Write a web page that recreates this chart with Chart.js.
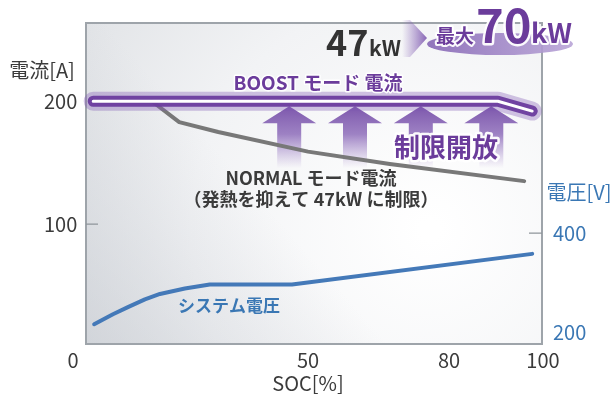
<!DOCTYPE html>
<html>
<head>
<meta charset="utf-8">
<script src="https://cdn.jsdelivr.net/npm/chart.js@4.4.1/dist/chart.umd.min.js"></script>
<style>
  html, body { margin: 0; padding: 0; background: #fff; }
</style>
</head>
<body>
<canvas id="grafico" width="612" height="397"></canvas>
<script>
// datos
const socBoost = [4.3, 90.4, 97.7];
const corrienteBoost = [200, 200, 192];
const socNormal = [4.3, 16.8, 22.6, 30.9, 50, 67.4, 96];
const corrienteNormal = [200, 200, 183, 175, 159, 149, 135];
const socTension = [4.5, 8.5, 11.8, 15.3, 18.5, 23.8, 29.1, 46.6, 97.7];
const tensionSistema = [216, 236, 251, 266, 277, 288, 296, 296, 358];
const ticksSoc = [0, 50, 80, 100];
const ticksCorriente = [100, 200];
const ticksTension = [200, 400];

const fuente = "'Noto Sans CJK JP', 'Noto Sans', sans-serif";
const morado = "#6b3c9b";
const azul = "#3a77b4";
const grisTexto = "#3b3b3b";

function puntos(xs, ys) {
  return xs.map((x, i) => ({ x: x, y: ys[i] }));
}

function textoConBorde(ctx, texto, x, y, color, ancho) {
  ctx.lineJoin = "round";
  ctx.strokeStyle = "rgba(255,255,255,0.95)";
  ctx.lineWidth = ancho;
  ctx.strokeText(texto, x, y);
  ctx.fillStyle = color;
  ctx.fillText(texto, x, y);
}

function recuadro(a) {
  return { left: a.left + 13, right: a.right - 1, top: a.top + 1, bottom: a.bottom - 3 };
}

const fondoPlugin = {
  id: "fondo",
  beforeDraw(chart) {
    const { ctx, chartArea } = chart;
    const r = recuadro(chartArea);
    const w = r.right - r.left, h = r.bottom - r.top;
    ctx.save();
    const g = ctx.createRadialGradient(430, 230, 10, 430, 230, 520);
    g.addColorStop(0, "#ffffff");
    g.addColorStop(0.45, "#f2f3f5");
    g.addColorStop(1, "#d6d9dd");
    ctx.fillStyle = g;
    ctx.fillRect(r.left, r.top, w, h);
    const g2 = ctx.createLinearGradient(r.left, r.bottom, r.left + 170, r.bottom - 150);
    g2.addColorStop(0, "rgba(185,190,198,0.45)");
    g2.addColorStop(1, "rgba(185,190,198,0)");
    ctx.fillStyle = g2;
    ctx.fillRect(r.left, r.top, w, h);
    ctx.strokeStyle = "#9ea4aa";
    ctx.lineWidth = 2;
    ctx.strokeRect(r.left, r.top, w, h);
    ctx.restore();
  },
  beforeDatasetsDraw(chart) {
    const { ctx, chartArea, scales } = chart;
    const r = recuadro(chartArea);
    ctx.save();
    // marcas de ticks dentro del recuadro
    ctx.strokeStyle = "#8f959b";
    ctx.lineWidth = 1.2;
    const y100 = scales.y.getPixelForValue(100);
    ctx.beginPath();
    ctx.moveTo(r.left, y100);
    ctx.lineTo(r.left + 12, y100);
    const y400 = scales.y1.getPixelForValue(400);
    ctx.moveTo(r.right - 13, y400);
    ctx.lineTo(r.right, y400);
    ctx.stroke();

    // flechas de "制限開放"
    const yTop = scales.y.getPixelForValue(200) + 5;
    [46, 60, 74, 89].forEach((s) => {
      const cx = scales.x.getPixelForValue(s);
      const gr = ctx.createLinearGradient(0, yTop, 0, yTop + 62);
      gr.addColorStop(0, "rgba(118,78,168,0.95)");
      gr.addColorStop(0.45, "rgba(135,100,182,0.8)");
      gr.addColorStop(1, "rgba(160,130,200,0)");
      ctx.fillStyle = gr;
      ctx.beginPath();
      ctx.moveTo(cx, yTop);
      ctx.lineTo(cx + 27, yTop + 17);
      ctx.lineTo(cx + 12, yTop + 17);
      ctx.lineTo(cx + 12, yTop + 62);
      ctx.lineTo(cx - 12, yTop + 62);
      ctx.lineTo(cx - 12, yTop + 17);
      ctx.lineTo(cx - 27, yTop + 17);
      ctx.closePath();
      ctx.fill();
    });
    ctx.restore();
  },
  afterDatasetsDraw(chart) {
    const ctx = chart.ctx;
    ctx.save();
    ctx.textAlign = "center";
    ctx.textBaseline = "middle";

    ctx.font = "20px " + fuente;
    ctx.fillStyle = grisTexto;
    ctx.fillText("電流[A]", 42, 70);
    ctx.fillStyle = azul;
    ctx.fillText("電圧[V]", 579, 192);

    ctx.font = "bold 19px " + fuente;
    textoConBorde(ctx, "BOOST モード 電流", 318, 83, morado, 3);

    ctx.font = "bold 18px " + fuente;
    ctx.fillStyle = grisTexto;
    ctx.fillText("NORMAL モード電流", 311, 178);
    ctx.fillText("（発熱を抑えて 47kW に制限）", 311, 199);

    ctx.font = "bold 17px " + fuente;
    ctx.fillStyle = azul;
    ctx.fillText("システム電圧", 229, 306);

    ctx.font = "bold 26px " + fuente;
    textoConBorde(ctx, "制限開放", 446, 147, morado, 5);

    // 47kW -> 最大70kW
    ctx.textAlign = "left";
    ctx.textBaseline = "alphabetic";
    ctx.fillStyle = "#333";
    ctx.font = "bold 36px " + fuente;
    ctx.fillText("47", 326, 56);
    ctx.font = "bold 21px " + fuente;
    ctx.fillText("kW", 369, 56);

    const gc = ctx.createLinearGradient(402, 0, 428, 0);
    gc.addColorStop(0, "rgba(140,105,185,0)");
    gc.addColorStop(1, "rgba(125,88,175,0.95)");
    ctx.fillStyle = gc;
    ctx.beginPath();
    ctx.moveTo(402, 20);
    ctx.lineTo(410, 20);
    ctx.lineTo(427, 38);
    ctx.lineTo(410, 57);
    ctx.lineTo(402, 57);
    ctx.closePath();
    ctx.fill();

    const ge = ctx.createLinearGradient(427, 0, 573, 0);
    ge.addColorStop(0, "rgba(140,110,185,0.95)");
    ge.addColorStop(1, "rgba(185,165,215,0.9)");
    ctx.fillStyle = ge;
    ctx.beginPath();
    ctx.ellipse(500, 44, 73, 11, 0, 0, Math.PI * 2);
    ctx.fill();

    ctx.font = "bold 19px " + fuente;
    textoConBorde(ctx, "最大", 436, 43, morado, 4);
    ctx.font = "bold 47px " + fuente;
    textoConBorde(ctx, "70", 476, 43, morado, 5);
    ctx.font = "bold 27px " + fuente;
    textoConBorde(ctx, "kW", 531, 43, morado, 4);
    ctx.restore();
  },
};

const ctx = document.getElementById("grafico");
new Chart(ctx, {
  type: "line",
  data: {
    datasets: [
      {
        label: "BOOST",
        data: puntos(socBoost, corrienteBoost),
        borderColor: "#ffffff",
        borderWidth: 3,
        yAxisID: "y",
      },
      {
        label: "BOOST core",
        data: puntos(socBoost, corrienteBoost),
        borderColor: "rgba(108,60,158,0.95)",
        borderWidth: 11,
        yAxisID: "y",
      },
      {
        label: "BOOST glow",
        data: puntos(socBoost, corrienteBoost),
        borderColor: "rgba(130,90,180,0.35)",
        borderWidth: 19,
        yAxisID: "y",
      },
      {
        label: "NORMAL",
        data: puntos(socNormal, corrienteNormal),
        borderColor: "#787878",
        borderWidth: 4,
        yAxisID: "y",
      },
      {
        label: "システム電圧",
        data: puntos(socTension, tensionSistema),
        borderColor: "#4479b8",
        borderWidth: 4,
        yAxisID: "y1",
      },
    ],
  },
  options: {
    responsive: false,
    animation: false,
    layout: { padding: { top: 22, left: 44, right: 25, bottom: 4 } },
    elements: {
      point: { radius: 0 },
      line: { tension: 0, borderCapStyle: "round", borderJoinStyle: "round" },
    },
    plugins: { legend: { display: false }, tooltip: { enabled: false } },
    scales: {
      x: {
        type: "linear",
        min: 0,
        max: 100,
        afterBuildTicks: (scale) => {
          scale.ticks = ticksSoc.map((v) => ({ value: v }));
        },
        grid: { display: false, drawTicks: false },
        border: { display: false },
        ticks: {
          padding: 3,
          color: grisTexto,
          font: { family: fuente, size: 20, lineHeight: 1 },
        },
        title: {
          display: true,
          text: "SOC[%]",
          color: grisTexto,
          font: { family: fuente, size: 20, lineHeight: 1 },
          padding: { top: 0, bottom: 0 },
        },
      },
      y: {
        position: "left",
        min: 0,
        max: 264.5,
        afterBuildTicks: (scale) => {
          scale.ticks = ticksCorriente.map((v) => ({ value: v }));
        },
        afterFit: (scale) => {
          scale.width = 29;
        },
        grid: { display: false, drawTicks: false },
        border: { display: false },
        ticks: {
          mirror: true,
          padding: -29,
          color: grisTexto,
          font: { family: fuente, size: 20 },
        },
      },
      y1: {
        position: "right",
        min: 170,
        max: 826,
        afterBuildTicks: (scale) => {
          scale.ticks = ticksTension.map((v) => ({ value: v }));
        },
        afterFit: (scale) => {
          scale.width = 44;
        },
        grid: { display: false, drawTicks: false },
        border: { display: false },
        ticks: {
          padding: 10,
          color: azul,
          font: { family: fuente, size: 20 },
        },
      },
    },
  },
  plugins: [fondoPlugin],
});
</script>
</body>
</html>
